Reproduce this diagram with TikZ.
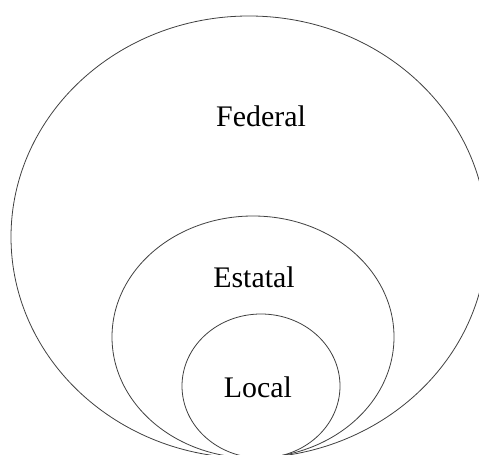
\documentclass[tikz,border=0pt]{standalone}
\usepackage{fontspec}
\setmainfont{Liberation Serif}
\begin{document}
\begin{tikzpicture}[x=1bp,y=-1bp,
  ring/.style={draw=black!75,line width=0.8bp},
  level/.style={anchor=base,inner sep=0pt,font=\fontsize{30}{36}\selectfont}]
  \useasboundingbox (0,0) rectangle (479,455);
  \clip (0,0) rectangle (479,455);
  % three nested levels, all touching at the bottom
  \draw[ring] (249,237) ellipse [x radius=238, y radius=221];
  \draw[ring] (253,337) ellipse [x radius=141, y radius=121];
  \draw[ring] (261,386) ellipse [x radius=79, y radius=72];
  \node[level] (federal) at (261,127) {Federal};
  \node[level] (estatal) at (254,287) {Estatal};
  \node[level] (local)   at (258,397) {Local};
\end{tikzpicture}
\end{document}
